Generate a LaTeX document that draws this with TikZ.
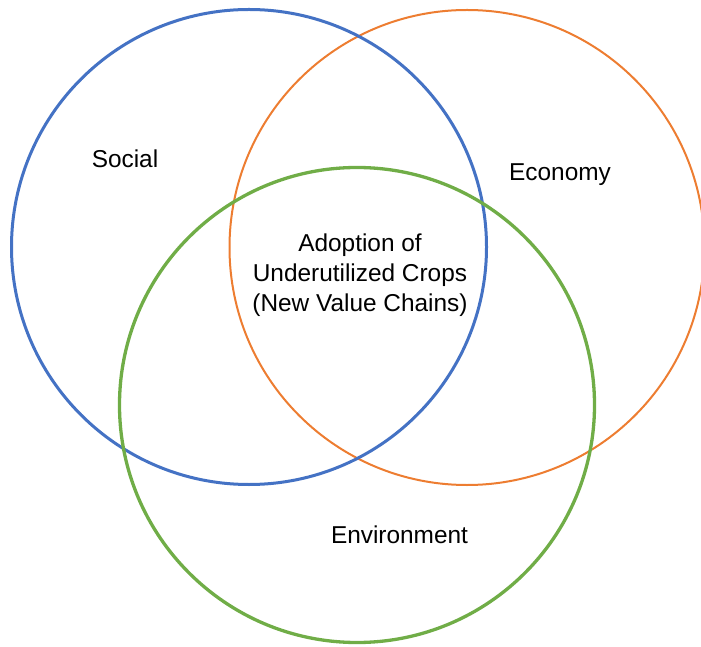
\documentclass[tikz,border=0pt]{standalone}
\usepackage{fontspec}
\setmainfont{Liberation Sans}
\definecolor{vblue}{HTML}{4472C4}
\definecolor{vorange}{HTML}{ED7D31}
\definecolor{vgreen}{HTML}{70AD47}
\tikzset{
  setcircle/.style={circle, draw, fill=none, inner sep=0pt},
  lbl/.style={font=\fontsize{24.4}{30}\selectfont, inner sep=0pt, anchor=base},
}
\begin{document}
\begin{tikzpicture}[x=1pt,y=1pt]
\useasboundingbox (0,0) rectangle (701,646);
\clip (0,0) rectangle (701,646);
\node[setcircle, draw=vorange, line width=2pt, minimum size=475pt] (economy) at (467,398.5) {};
\node[setcircle, draw=vblue, line width=3pt, minimum size=475pt] (social) at (249,399) {};
\node[setcircle, draw=vgreen, line width=3.3pt, minimum size=475pt] (environment) at (357,241) {};
\node[lbl] (socialtxt) at (125,478) {Social};
\node[lbl] (economytxt) at (560,465) {Economy};
\node[lbl] (environmenttxt) at (399.5,103) {Environment};
\node[lbl, align=center] (adoption) at (360,334.5) {Adoption of\\Underutilized Crops\\(New Value Chains)};
\end{tikzpicture}
\end{document}
